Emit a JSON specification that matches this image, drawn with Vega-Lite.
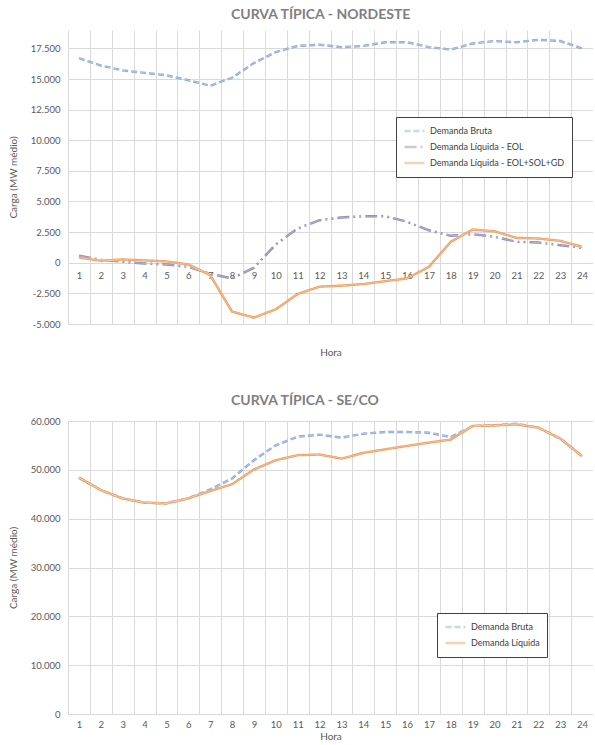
{
"$schema": "https://vega.github.io/schema/vega-lite/v6.json",
"padding": {"left": 8, "top": 8, "right": 0, "bottom": 0},
"config": {
  "locale": {"number": {"decimal": ",", "thousands": ".", "grouping": [3], "currency": ["", ""], "minus": "-"}},
  "font": "Lato",
  "view": {"stroke": null},
  "axis": {"labelColor": "#595959", "titleColor": "#595959", "labelFont": "Lato", "titleFont": "Lato", "labelFontSize": 9.5, "titleFontSize": 10, "titleFontWeight": "normal", "gridColor": "#d9d9d9", "domain": false, "ticks": false},
  "title": {"color": "#7f7f7f", "fontSize": 14, "font": "Lato", "fontWeight": "bold", "anchor": "start", "frame": "group"},
  "legend": {"labelFont": "Lato"}
},
"spacing": 36,
"resolve": {"scale": {"color": "independent", "strokeDash": "independent"}, "legend": {"color": "independent", "strokeDash": "independent"}},
"datasets": {
  "ne": [
    {"hora":1,"serie":"Demanda Bruta","valor":16700},{"hora":2,"serie":"Demanda Bruta","valor":16100},{"hora":3,"serie":"Demanda Bruta","valor":15700},{"hora":4,"serie":"Demanda Bruta","valor":15500},{"hora":5,"serie":"Demanda Bruta","valor":15300},{"hora":6,"serie":"Demanda Bruta","valor":14900},{"hora":7,"serie":"Demanda Bruta","valor":14450},{"hora":8,"serie":"Demanda Bruta","valor":15100},{"hora":9,"serie":"Demanda Bruta","valor":16300},{"hora":10,"serie":"Demanda Bruta","valor":17200},{"hora":11,"serie":"Demanda Bruta","valor":17700},{"hora":12,"serie":"Demanda Bruta","valor":17800},{"hora":13,"serie":"Demanda Bruta","valor":17600},{"hora":14,"serie":"Demanda Bruta","valor":17700},{"hora":15,"serie":"Demanda Bruta","valor":18000},{"hora":16,"serie":"Demanda Bruta","valor":18000},{"hora":17,"serie":"Demanda Bruta","valor":17600},{"hora":18,"serie":"Demanda Bruta","valor":17400},{"hora":19,"serie":"Demanda Bruta","valor":17900},{"hora":20,"serie":"Demanda Bruta","valor":18100},{"hora":21,"serie":"Demanda Bruta","valor":18000},{"hora":22,"serie":"Demanda Bruta","valor":18200},{"hora":23,"serie":"Demanda Bruta","valor":18100},{"hora":24,"serie":"Demanda Bruta","valor":17500},
    {"hora":1,"serie":"Demanda Líquida - EOL","valor":570},{"hora":2,"serie":"Demanda Líquida - EOL","valor":250},{"hora":3,"serie":"Demanda Líquida - EOL","valor":80},{"hora":4,"serie":"Demanda Líquida - EOL","valor":-60},{"hora":5,"serie":"Demanda Líquida - EOL","valor":-140},{"hora":6,"serie":"Demanda Líquida - EOL","valor":-330},{"hora":7,"serie":"Demanda Líquida - EOL","valor":-900},{"hora":8,"serie":"Demanda Líquida - EOL","valor":-1280},{"hora":9,"serie":"Demanda Líquida - EOL","valor":-400},{"hora":10,"serie":"Demanda Líquida - EOL","valor":1500},{"hora":11,"serie":"Demanda Líquida - EOL","valor":2800},{"hora":12,"serie":"Demanda Líquida - EOL","valor":3470},{"hora":13,"serie":"Demanda Líquida - EOL","valor":3690},{"hora":14,"serie":"Demanda Líquida - EOL","valor":3800},{"hora":15,"serie":"Demanda Líquida - EOL","valor":3800},{"hora":16,"serie":"Demanda Líquida - EOL","valor":3340},{"hora":17,"serie":"Demanda Líquida - EOL","valor":2650},{"hora":18,"serie":"Demanda Líquida - EOL","valor":2200},{"hora":19,"serie":"Demanda Líquida - EOL","valor":2330},{"hora":20,"serie":"Demanda Líquida - EOL","valor":2120},{"hora":21,"serie":"Demanda Líquida - EOL","valor":1710},{"hora":22,"serie":"Demanda Líquida - EOL","valor":1650},{"hora":23,"serie":"Demanda Líquida - EOL","valor":1430},{"hora":24,"serie":"Demanda Líquida - EOL","valor":1220},
    {"hora":1,"serie":"Demanda Líquida - EOL+SOL+GD","valor":430},{"hora":2,"serie":"Demanda Líquida - EOL+SOL+GD","valor":160},{"hora":3,"serie":"Demanda Líquida - EOL+SOL+GD","valor":270},{"hora":4,"serie":"Demanda Líquida - EOL+SOL+GD","valor":190},{"hora":5,"serie":"Demanda Líquida - EOL+SOL+GD","valor":110},{"hora":6,"serie":"Demanda Líquida - EOL+SOL+GD","valor":-140},{"hora":7,"serie":"Demanda Líquida - EOL+SOL+GD","valor":-1010},{"hora":8,"serie":"Demanda Líquida - EOL+SOL+GD","valor":-3990},{"hora":9,"serie":"Demanda Líquida - EOL+SOL+GD","valor":-4480},{"hora":10,"serie":"Demanda Líquida - EOL+SOL+GD","valor":-3800},{"hora":11,"serie":"Demanda Líquida - EOL+SOL+GD","valor":-2550},{"hora":12,"serie":"Demanda Líquida - EOL+SOL+GD","valor":-1950},{"hora":13,"serie":"Demanda Líquida - EOL+SOL+GD","valor":-1870},{"hora":14,"serie":"Demanda Líquida - EOL+SOL+GD","valor":-1740},{"hora":15,"serie":"Demanda Líquida - EOL+SOL+GD","valor":-1500},{"hora":16,"serie":"Demanda Líquida - EOL+SOL+GD","valor":-1280},{"hora":17,"serie":"Demanda Líquida - EOL+SOL+GD","valor":-330},{"hora":18,"serie":"Demanda Líquida - EOL+SOL+GD","valor":1710},{"hora":19,"serie":"Demanda Líquida - EOL+SOL+GD","valor":2710},{"hora":20,"serie":"Demanda Líquida - EOL+SOL+GD","valor":2570},{"hora":21,"serie":"Demanda Líquida - EOL+SOL+GD","valor":2030},{"hora":22,"serie":"Demanda Líquida - EOL+SOL+GD","valor":1980},{"hora":23,"serie":"Demanda Líquida - EOL+SOL+GD","valor":1790},{"hora":24,"serie":"Demanda Líquida - EOL+SOL+GD","valor":1300}
  ],
  "se": [
    {"hora":1,"serie":"Demanda Bruta","valor":48400},{"hora":2,"serie":"Demanda Bruta","valor":45850},{"hora":3,"serie":"Demanda Bruta","valor":44150},{"hora":4,"serie":"Demanda Bruta","valor":43270},{"hora":5,"serie":"Demanda Bruta","valor":43130},{"hora":6,"serie":"Demanda Bruta","valor":44150},{"hora":7,"serie":"Demanda Bruta","valor":45990},{"hora":8,"serie":"Demanda Bruta","valor":48230},{"hora":9,"serie":"Demanda Bruta","valor":51970},{"hora":10,"serie":"Demanda Bruta","valor":55030},{"hora":11,"serie":"Demanda Bruta","valor":56800},{"hora":12,"serie":"Demanda Bruta","valor":57200},{"hora":13,"serie":"Demanda Bruta","valor":56600},{"hora":14,"serie":"Demanda Bruta","valor":57400},{"hora":15,"serie":"Demanda Bruta","valor":57750},{"hora":16,"serie":"Demanda Bruta","valor":57750},{"hora":17,"serie":"Demanda Bruta","valor":57600},{"hora":18,"serie":"Demanda Bruta","valor":56700},{"hora":19,"serie":"Demanda Bruta","valor":58980},{"hora":20,"serie":"Demanda Bruta","valor":59100},{"hora":21,"serie":"Demanda Bruta","valor":59450},{"hora":22,"serie":"Demanda Bruta","valor":58640},{"hora":23,"serie":"Demanda Bruta","valor":56400},{"hora":24,"serie":"Demanda Bruta","valor":52800},
    {"hora":1,"serie":"Demanda Líquida","valor":48400},{"hora":2,"serie":"Demanda Líquida","valor":45850},{"hora":3,"serie":"Demanda Líquida","valor":44150},{"hora":4,"serie":"Demanda Líquida","valor":43270},{"hora":5,"serie":"Demanda Líquida","valor":43130},{"hora":6,"serie":"Demanda Líquida","valor":44150},{"hora":7,"serie":"Demanda Líquida","valor":45650},{"hora":8,"serie":"Demanda Líquida","valor":47070},{"hora":9,"serie":"Demanda Líquida","valor":50070},{"hora":10,"serie":"Demanda Líquida","valor":51970},{"hora":11,"serie":"Demanda Líquida","valor":53000},{"hora":12,"serie":"Demanda Líquida","valor":53130},{"hora":13,"serie":"Demanda Líquida","valor":52300},{"hora":14,"serie":"Demanda Líquida","valor":53470},{"hora":15,"serie":"Demanda Líquida","valor":54200},{"hora":16,"serie":"Demanda Líquida","valor":54900},{"hora":17,"serie":"Demanda Líquida","valor":55580},{"hora":18,"serie":"Demanda Líquida","valor":56200},{"hora":19,"serie":"Demanda Líquida","valor":58980},{"hora":20,"serie":"Demanda Líquida","valor":59100},{"hora":21,"serie":"Demanda Líquida","valor":59300},{"hora":22,"serie":"Demanda Líquida","valor":58640},{"hora":23,"serie":"Demanda Líquida","valor":56400},{"hora":24,"serie":"Demanda Líquida","valor":52800}
  ]
},
"vconcat": [
  {
    "width": 525, "height": 294,
    "title": {"text": "CURVA TÍPICA - NORDESTE", "dx": 163, "offset": 8},
    "data": {"name": "ne"},
    "encoding": {
      "x": {"field": "hora", "type": "ordinal", "bandPosition": 0.5, "scale": {"type": "band", "paddingInner": 0, "paddingOuter": 0},
            "axis": {"title": "Hora", "labelAngle": 0, "tickBand": "extent", "grid": true, "offset": -62, "labelPadding": 8, "titlePadding": 68}},
      "y": {"field": "valor", "type": "quantitative", "scale": {"domain": [-5000, 19000], "nice": false, "zero": false},
            "axis": {"title": "Carga (MW médio)", "values": [-5000,-2500,0,2500,5000,7500,10000,12500,15000,17500], "format": ",.0f", "labelPadding": 8, "titlePadding": 12}},
      "strokeDash": {"field": "serie", "type": "nominal",
                "scale": {"domain": ["Demanda Bruta", "Demanda Líquida - EOL", "Demanda Líquida - EOL+SOL+GD"], "range": [[6, 3], [12, 4, 2, 4, 2, 4], [1, 0]]},
                "legend": {"title": null, "orient": "none", "legendX": 328, "legendY": 87, "symbolType": "stroke", "symbolSize": 400, "symbolStrokeWidth": 2.5, "labelFontSize": 9, "labelColor": "#404040", "strokeColor": "#404040", "fillColor": "white", "padding": 7, "rowPadding": 2, "clipHeight": 14}}
    },
    "layer": [
      {
        "mark": {"type": "line", "strokeWidth": 2.4},
        "encoding": {
          "color": {"field": "serie", "type": "nominal",
                "scale": {"domain": ["Demanda Bruta", "Demanda Líquida - EOL", "Demanda Líquida - EOL+SOL+GD"], "range": ["#8aa6d8", "#8a88b6", "#ee9b5a"]},
                "legend": {"title": null, "orient": "none", "legendX": 328, "legendY": 87, "symbolType": "stroke", "symbolSize": 400, "symbolStrokeWidth": 2.5, "labelFontSize": 9, "labelColor": "#404040", "strokeColor": "#404040", "fillColor": "white", "padding": 7, "rowPadding": 2, "clipHeight": 14}}
        }
      },
      {
        "mark": {"type": "line", "strokeWidth": 0.8, "color": "white", "opacity": 0.45},
        "encoding": {}
      }
    ]
  },
  {
    "width": 525, "height": 293,
    "title": {"text": "CURVA TÍPICA - SE/CO", "dx": 163, "offset": 8},
    "data": {"name": "se"},
    "encoding": {
      "x": {"field": "hora", "type": "ordinal", "bandPosition": 0.5, "scale": {"type": "band", "paddingInner": 0, "paddingOuter": 0},
            "axis": {"title": "Hora", "labelAngle": 0, "tickBand": "extent", "grid": true, "labelPadding": 5, "titlePadding": 3}},
      "y": {"field": "valor", "type": "quantitative", "scale": {"domain": [0, 60000], "nice": false},
            "axis": {"title": "Carga (MW médio)", "values": [0,10000,20000,30000,40000,50000,60000], "format": ",.0f", "labelPadding": 8, "titlePadding": 12}},
      "strokeDash": {"field": "serie", "type": "nominal",
                "scale": {"domain": ["Demanda Bruta", "Demanda Líquida"], "range": [[6, 3], [1, 0]]},
                "legend": {"title": null, "orient": "none", "legendX": 369, "legendY": 192, "symbolType": "stroke", "symbolSize": 400, "symbolStrokeWidth": 2.5, "labelFontSize": 9, "labelColor": "#404040", "strokeColor": "#404040", "fillColor": "white", "padding": 7, "rowPadding": 2, "clipHeight": 14}}
    },
    "layer": [
      {
        "mark": {"type": "line", "strokeWidth": 2.4},
        "encoding": {
          "color": {"field": "serie", "type": "nominal",
                "scale": {"domain": ["Demanda Bruta", "Demanda Líquida"], "range": ["#8aa6d8", "#ee9b5a"]},
                "legend": {"title": null, "orient": "none", "legendX": 369, "legendY": 192, "symbolType": "stroke", "symbolSize": 400, "symbolStrokeWidth": 2.5, "labelFontSize": 9, "labelColor": "#404040", "strokeColor": "#404040", "fillColor": "white", "padding": 7, "rowPadding": 2, "clipHeight": 14}}
        }
      },
      {
        "mark": {"type": "line", "strokeWidth": 0.8, "color": "white", "opacity": 0.45},
        "encoding": {}
      }
    ]
  }
]
}
